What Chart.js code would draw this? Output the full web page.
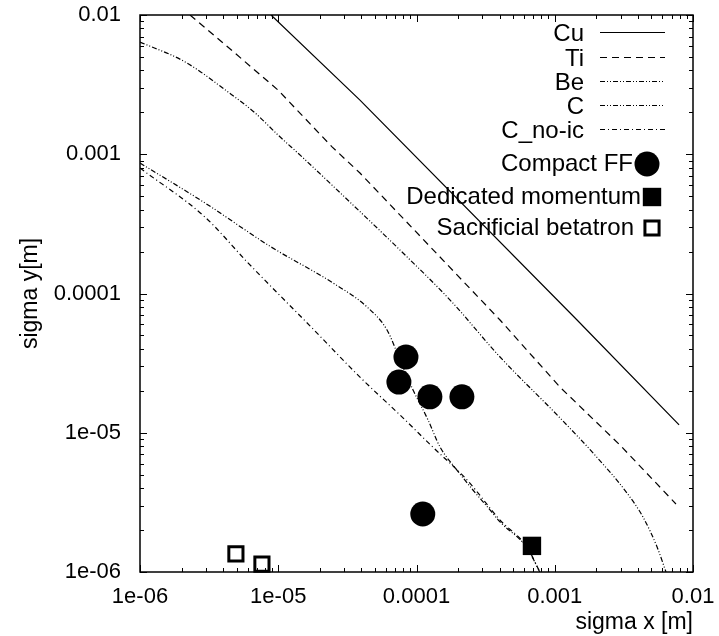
<!DOCTYPE html>
<html>
<head>
<meta charset="utf-8">
<script src="https://cdn.jsdelivr.net/npm/chart.js@4.4.1/dist/chart.umd.min.js"></script>
<style>
  html, body { margin: 0; padding: 0; background: #fff; }
</style>
</head>
<body>
<canvas id="chart" width="719" height="636"></canvas>
<script>
// values (sigma x, sigma y in metres)
const cuX = [8.87e-6, 3.9e-5, 1.45e-3, 7.93e-3];
const cuY = [1.0e-2, 2.45e-3, 6.45e-5, 1.14e-5];

const tiX = [2.3e-6, 4.86e-6, 9.96e-6, 2.45e-5, 3.9e-5, 4.02e-4, 1.09e-3, 2.96e-3, 7.53e-3];
const tiY = [1.0e-2, 5.33e-3, 2.89e-3, 1.13e-3, 7.33e-4, 6.45e-5, 2.13e-5, 8.17e-6, 3.08e-6];

const beX = [1e-6, 2.12e-6, 4.33e-6, 6.8e-6, 9.96e-6, 1.49e-5, 2.45e-5, 7.6e-5, 1.75e-4, 4.02e-4, 1.09e-3, 1.89e-3, 3.33e-3, 4.35e-3, 5.5e-3, 6.38e-3];
const beY = [6.4e-3, 4.6e-3, 2.8e-3, 1.98e-3, 1.375e-3, 9.55e-4, 6.0e-4, 2.05e-4, 8.97e-5, 3.5e-5, 1.28e-5, 7.16e-6, 3.69e-6, 2.48e-6, 1.51e-6, 1.0e-6];

const cX = [1e-6, 2.95e-6, 8.87e-6, 2.49e-5, 4.39e-5, 6.12e-5, 7.6e-5, 9.44e-5, 1.21e-4, 1.48e-4, 1.96e-4, 2.56e-4, 3.4e-4, 4.02e-4, 6.3e-4, 7.8e-4];
const cY = [8.65e-4, 4.47e-4, 2.16e-4, 1.19e-4, 8.0e-5, 5.47e-5, 3.33e-5, 2.03e-5, 1.24e-5, 7.9e-6, 5.4e-6, 3.88e-6, 2.79e-6, 2.29e-6, 1.49e-6, 1.0e-6];

const cnoX = [1e-6, 2.95e-6, 6.04e-6, 1.73e-5, 3.9e-5, 7.85e-5, 1.31e-4, 2.32e-4, 4.02e-4, 6.3e-4, 7.8e-4];
const cnoY = [7.96e-4, 3.54e-4, 1.66e-4, 5.74e-5, 2.51e-5, 1.3e-5, 7.9e-6, 4.58e-6, 2.36e-6, 1.51e-6, 1.0e-6];

const compactX = [8.39e-5, 7.46e-5, 1.25e-4, 2.13e-4, 1.11e-4];
const compactY = [3.5e-5, 2.31e-5, 1.81e-5, 1.81e-5, 2.61e-6];

const momentumX = [6.84e-4];
const momentumY = [1.54e-6];

const betatronX = [4.94e-6, 7.62e-6];
const betatronY = [1.35e-6, 1.14e-6];

const xTickValues = [1e-6, 1e-5, 1e-4, 1e-3, 1e-2];
const xTickLabels = ['1e-06', '1e-05', '0.0001', '0.001', '0.01'];
const yTickValues = [1e-6, 1e-5, 1e-4, 1e-3, 1e-2];
const yTickLabels = ['1e-06', '1e-05', '0.0001', '0.001', '0.01'];

const FONT = "'Liberation Sans', Arial, Helvetica, sans-serif";

function pts(xs, ys) {
    return xs.map((x, i) => ({ x: x, y: ys[i] }));
}

function lineSet(label, xs, ys, dash, smooth) {
    return {
        label: label,
        data: pts(xs, ys),
        showLine: true,
        borderColor: '#000',
        borderWidth: 1.2,
        borderDash: dash,
        pointRadius: 0,
        pointHoverRadius: 0,
        cubicInterpolationMode: smooth ? 'monotone' : 'default',
        order: 2,
    };
}

function markerSet(label, xs, ys, style, radius, fill, bw) {
    return {
        label: label,
        data: pts(xs, ys),
        showLine: false,
        pointStyle: style,
        pointRadius: radius,
        pointHoverRadius: radius,
        backgroundColor: fill,
        borderColor: '#000',
        borderWidth: bw,
        clip: false,
        order: 1,
    };
}

// keep the plot box where the reference has it: no extra room for label overhang
function noOverhang(s) {
    s.paddingTop = 0;
    s.paddingBottom = 0;
    s.paddingLeft = 0;
    s.paddingRight = 0;
}

// gnuplot style: inward ticks on all four sides plus a frame
const frameTicks = {
    id: 'frameTicks',
    afterDraw(chart) {
        const { ctx, chartArea: a, scales } = chart;
        ctx.save();
        ctx.strokeStyle = '#000';
        ctx.lineWidth = 1;
        const decades = [1e-6, 1e-5, 1e-4, 1e-3, 1e-2];
        const draw = (v, len) => {
            const px = Math.round(scales.x.getPixelForValue(v)) + 0.5;
            const py = Math.round(scales.y.getPixelForValue(v)) + 0.5;
            ctx.beginPath();
            ctx.moveTo(px, a.bottom); ctx.lineTo(px, a.bottom - len);
            ctx.moveTo(px, a.top); ctx.lineTo(px, a.top + len);
            ctx.moveTo(a.left, py); ctx.lineTo(a.left + len, py);
            ctx.moveTo(a.right, py); ctx.lineTo(a.right - len, py);
            ctx.stroke();
        };
        decades.forEach((d, i) => {
            draw(d, 7);
            if (i < decades.length - 1) {
                for (let k = 2; k <= 9; k++) draw(d * k, 4);
            }
        });
        ctx.lineWidth = 1.5;
        ctx.strokeRect(a.left, a.top, a.right - a.left, a.bottom - a.top);
        ctx.restore();
    }
};

// key in the upper right corner, text right-justified with the sample after it
const keyBox = {
    id: 'keyBox',
    afterDatasetsDraw(chart, args, opts) {
        const ctx = chart.ctx;
        ctx.save();
        ctx.font = '24px ' + FONT;
        ctx.textAlign = 'right';
        ctx.textBaseline = 'middle';
        chart.data.datasets.forEach((ds, i) => {
            const row = opts.rows[i];
            ctx.fillStyle = '#000';
            ctx.fillText(ds.label, row.textRight, row.y);
            if (ds.showLine) {
                ctx.beginPath();
                ctx.lineWidth = ds.borderWidth;
                ctx.strokeStyle = ds.borderColor;
                ctx.setLineDash(ds.borderDash || []);
                ctx.moveTo(opts.sampleLeft, row.y - 1.5);
                ctx.lineTo(opts.sampleRight, row.y - 1.5);
                ctx.stroke();
                ctx.setLineDash([]);
            } else {
                ctx.fillStyle = ds.backgroundColor;
                ctx.strokeStyle = ds.borderColor;
                ctx.lineWidth = ds.borderWidth;
                ctx.beginPath();
                if (ds.pointStyle === 'circle') {
                    ctx.arc(row.markX, row.y, ds.pointRadius, 0, Math.PI * 2);
                } else {
                    const s = ds.pointRadius * Math.SQRT1_2;
                    ctx.rect(row.markX - s, row.y - s, 2 * s, 2 * s);
                }
                ctx.fill();
                if (ds.borderWidth > 0) ctx.stroke();
            }
        });
        ctx.restore();
    }
};

Chart.defaults.font.family = FONT;
Chart.defaults.color = '#000';

new Chart(document.getElementById('chart'), {
    type: 'scatter',
    data: {
        datasets: [
            lineSet('Cu', cuX, cuY, [], false),
            lineSet('Ti', tiX, tiY, [7, 5], false),
            lineSet('Be', beX, beY, [5, 2, 1, 2, 1, 2], true),
            lineSet('C', cX, cY, [5, 2, 1, 2, 1, 2], true),
            lineSet('C_no-ic', cnoX, cnoY, [5, 3, 1, 3], true),
            markerSet('Compact FF', compactX, compactY, 'circle', 12.5, '#000', 0),
            markerSet('Dedicated momentum', momentumX, momentumY, 'rect', 13, '#000', 0),
            markerSet('Sacrificial betatron', betatronX, betatronY, 'rect', 10, '#fff', 3),
        ],
    },
    options: {
        responsive: false,
        animation: false,
        layout: { padding: { top: 15, right: 26, left: 0, bottom: 0 } },
        plugins: {
            legend: { display: false },
            tooltip: { enabled: false },
            keyBox: {
                sampleLeft: 600,
                sampleRight: 665,
                rows: [
                    { y: 34, textRight: 584 },
                    { y: 59, textRight: 584 },
                    { y: 83, textRight: 584 },
                    { y: 107, textRight: 584 },
                    { y: 131, textRight: 584 },
                    { y: 164, textRight: 633, markX: 647 },
                    { y: 197, textRight: 641, markX: 652 },
                    { y: 228, textRight: 634, markX: 652 },
                ],
            },
        },
        scales: {
            x: {
                type: 'logarithmic',
                min: 1e-6,
                max: 1e-2,
                grid: { display: false, drawTicks: false },
                border: { display: false },
                afterBuildTicks: s => { s.ticks = xTickValues.map(v => ({ value: v })); },
                afterFit: s => { s.height = 64; noOverhang(s); },
                ticks: {
                    font: { size: 22 },
                    padding: 12,
                    maxRotation: 0,
                    autoSkip: false,
                    callback: v => xTickLabels[xTickValues.indexOf(v)],
                },
                title: {
                    display: true,
                    text: 'sigma x [m]',
                    align: 'end',
                    font: { size: 23 },
                    padding: { top: 0, bottom: 0 },
                },
            },
            y: {
                type: 'logarithmic',
                min: 1e-6,
                max: 1e-2,
                grid: { display: false, drawTicks: false },
                border: { display: false },
                afterBuildTicks: s => { s.ticks = yTickValues.map(v => ({ value: v })); },
                afterFit: s => { s.width = 140; noOverhang(s); },
                ticks: {
                    font: { size: 22 },
                    padding: 19,
                    autoSkip: false,
                    callback: v => yTickLabels[yTickValues.indexOf(v)],
                },
                title: {
                    display: true,
                    text: 'sigma y[m]',
                    font: { size: 23 },
                    padding: { top: 17, bottom: 0 },
                },
            },
        },
    },
    plugins: [frameTicks, keyBox],
});
</script>
</body>
</html>
